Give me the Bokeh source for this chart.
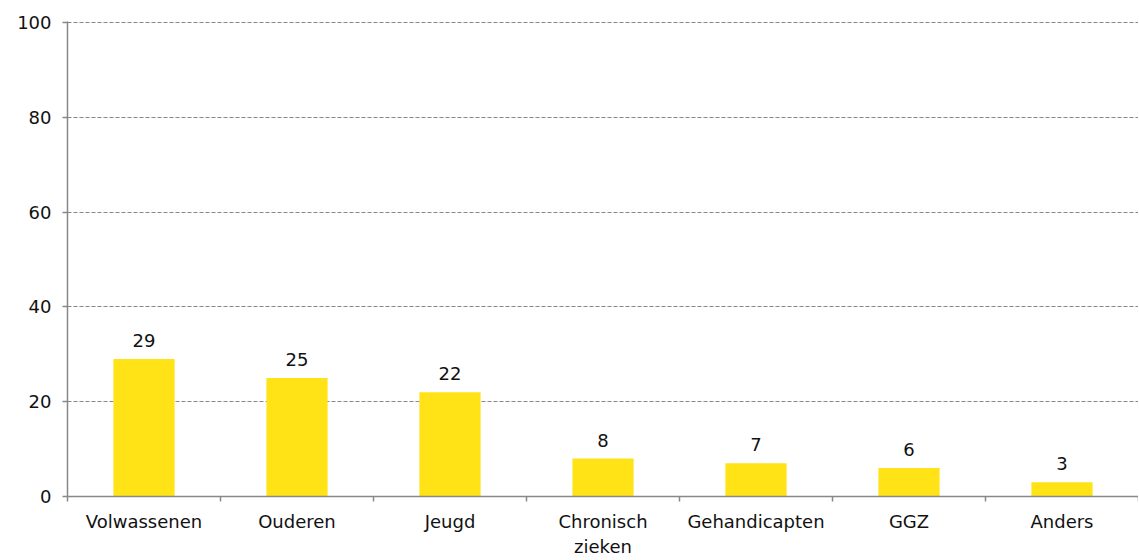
from bokeh.plotting import figure
from bokeh.models import ColumnDataSource, FixedTicker, Range1d, LabelSet
from bokeh.core.properties import value
from bokeh.embed import file_html
from bokeh.resources import INLINE

categories = ["Volwassenen", "Ouderen", "Jeugd", "Chronisch\nzieken", "Gehandicapten", "GGZ", "Anders"]
values = [29, 25, 22, 8, 7, 6, 3]
y_ticks = [0, 20, 40, 60, 80, 100]

FONT = "DejaVu Sans"
xs = [i + 0.5 for i in range(len(categories))]
src = ColumnDataSource(dict(x=xs, top=values, label=[str(v) for v in values]))

p = figure(width=1138, height=559, output_backend="svg", toolbar_location=None,
           x_range=Range1d(0, len(categories)), y_range=Range1d(0, 100.2),
           min_border_left=67, min_border_right=0, min_border_top=21, min_border_bottom=50)
p.outline_line_color = None

p.vbar(x="x", top="top", width=0.4, source=src, color="#FFE316", line_color=None)
p.add_layout(LabelSet(x="x", y="top", text="label", source=src, text_align="center",
                      text_baseline="bottom", y_offset=12, text_font=value(FONT),
                      text_font_size="18px", text_color="#111111"))

p.xaxis.ticker = FixedTicker(ticks=xs, minor_ticks=list(range(len(categories) + 1)))
p.xaxis.major_label_overrides = {x: c for x, c in zip(xs, categories)}
p.xaxis.major_tick_out = 0
p.xaxis.major_tick_in = 0
p.xaxis.minor_tick_out = 5
p.xaxis.minor_tick_in = 0
p.xaxis.minor_tick_line_color = "#888888"
p.xaxis.minor_tick_line_width = 1.5
p.xaxis.major_label_standoff = 9

p.yaxis.ticker = FixedTicker(ticks=y_ticks)
p.yaxis.minor_tick_line_color = None
p.yaxis.major_tick_out = 5
p.yaxis.major_tick_in = 0
p.yaxis.major_tick_line_color = "#888888"
p.yaxis.major_tick_line_width = 1.5
p.yaxis.major_label_standoff = 11

for ax in (p.xaxis, p.yaxis):
    ax.axis_line_color = "#888888"
    ax.axis_line_width = 1.5
    ax.major_label_text_font = FONT
    ax.major_label_text_font_size = "18px"
    ax.major_label_text_color = "#111111"

p.xgrid.grid_line_color = None
p.ygrid.grid_line_color = "#888888"
p.ygrid.grid_line_dash = "4 2"
p.ygrid.grid_line_width = 1

open("out.html", "w").write(file_html(p, INLINE))
